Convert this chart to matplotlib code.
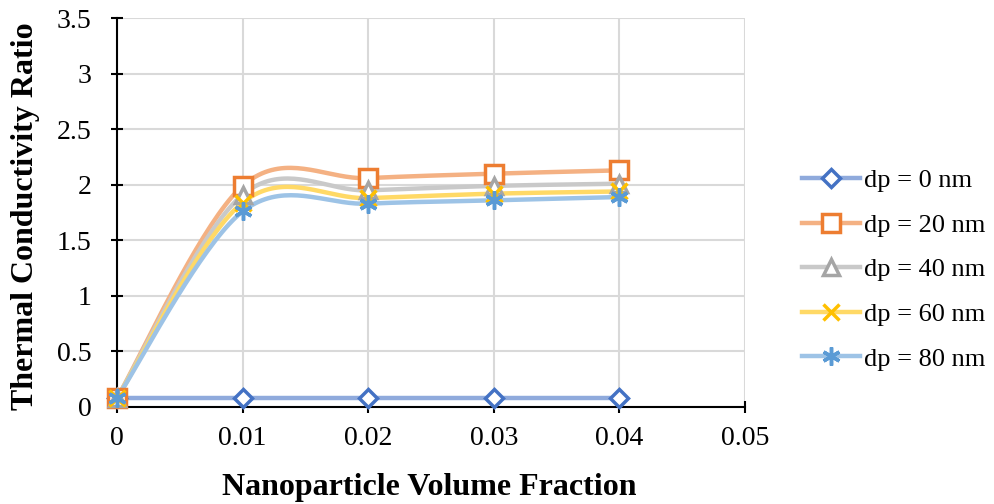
import numpy as np
import matplotlib.pyplot as plt
from matplotlib.ticker import FuncFormatter

# data
volume_fraction = [0, 0.01, 0.02, 0.03, 0.04]
dp_0 = [0.08, 0.08, 0.08, 0.08, 0.08]
dp_20 = [0.08, 1.99, 2.06, 2.10, 2.13]
dp_40 = [0.08, 1.91, 1.95, 1.99, 2.01]
dp_60 = [0.08, 1.84, 1.88, 1.92, 1.94]
dp_80 = [0.08, 1.76, 1.83, 1.86, 1.89]
labels = ["dp = 0 nm", "dp = 20 nm", "dp = 40 nm", "dp = 60 nm", "dp = 80 nm"]


def excel_smooth(x, y, n=40):
    # Excel-like smoothed line: cubic bezier through points (Catmull-Rom, tension 1/6)
    x = np.asarray(x, float)
    y = np.asarray(y, float)
    px, py = [], []
    for i in range(len(x) - 1):
        x0, y0 = (x[i - 1], y[i - 1]) if i > 0 else (x[i], y[i])
        x3, y3 = (x[i + 2], y[i + 2]) if i + 2 < len(x) else (x[i + 1], y[i + 1])
        c1x = x[i] + (x[i + 1] - x0) / 6
        c1y = y[i] + (y[i + 1] - y0) / 6
        c2x = x[i + 1] - (x3 - x[i]) / 6
        c2y = y[i + 1] - (y3 - y[i]) / 6
        t = np.linspace(0, 1, n)
        bx = (1-t)**3*x[i] + 3*(1-t)**2*t*c1x + 3*(1-t)*t**2*c2x + t**3*x[i+1]
        by = (1-t)**3*y[i] + 3*(1-t)**2*t*c1y + 3*(1-t)*t**2*c2y + t**3*y[i+1]
        px.extend(bx)
        py.extend(by)
    return np.array(px), np.array(py)


plt.rcParams['font.family'] = ['Liberation Serif', 'DejaVu Serif']

fig = plt.figure(figsize=(9.95, 5.04), dpi=100)
ax = fig.add_axes([0.1176, 0.1925, 0.6311, 0.7715])

series = [dp_0, dp_20, dp_40, dp_60, dp_80]
line_colors = ["#8FAADC", "#F4B183", "#C9C9C9", "#FFD966", "#9DC3E6"]
marker_colors = ["#4472C4", "#ED7D31", "#A5A5A5", "#FFC000", "#5B9BD5"]
markers = ["D", "s", "^", "x", (6, 2, 0)]
sizes = [9, 13, 11, 12, 13]

handles = []
for ys, lc, mc, m, s, lab in zip(series, line_colors, marker_colors, markers, sizes, labels):
    sx, sy = excel_smooth(volume_fraction, ys)
    ax.plot(sx, sy, color=lc, lw=3.2, solid_capstyle='round', zorder=2)
    filled = m in ("x",) or isinstance(m, tuple)
    ax.plot(volume_fraction, ys, linestyle='none', marker=m, markersize=s,
            markerfacecolor=mc if filled else 'white', markeredgecolor=mc,
            markeredgewidth=2.5, zorder=3, clip_on=False)
    h, = ax.plot([], [], color=lc, lw=3.2, marker=m, markersize=s,
                 markerfacecolor=mc if filled else 'white', markeredgecolor=mc,
                 markeredgewidth=2.5, label=lab)
    handles.append(h)

ax.set_xlim(0, 0.05)
ax.set_ylim(0, 3.5)
ax.set_xticks([0, 0.01, 0.02, 0.03, 0.04, 0.05])
ax.set_yticks(np.arange(0, 3.51, 0.5))
ax.xaxis.set_major_formatter(FuncFormatter(lambda v, p: "0" if v == 0 else f"{v:g}"))
ax.yaxis.set_major_formatter(FuncFormatter(lambda v, p: f"{v:g}"))
ax.grid(True, color="#D9D9D9", lw=1.5)
ax.set_axisbelow(True)
for side in ["top", "right"]:
    ax.spines[side].set_visible(False)
for side in ["left", "bottom"]:
    ax.spines[side].set_color("black")
    ax.spines[side].set_linewidth(1.5)
ax.tick_params(axis='both', direction='inout', length=9, width=1.5, labelsize=20,
               colors='black')
ax.tick_params(axis='y', pad=14)
ax.tick_params(axis='x', pad=9)

ax.set_xlabel("Nanoparticle Volume Fraction", fontsize=23, fontweight='bold')
ax.set_ylabel("Thermal Conductivity Ratio", fontsize=23, fontweight='bold')
ax.xaxis.set_label_coords(0.497, -0.17)
ax.yaxis.set_label_coords(-0.123, 0.49)

fig.legend(handles=handles, loc='upper left', bbox_to_anchor=(0.806, 0.665),
           frameon=False, fontsize=19, handlelength=2.2, handletextpad=0.15,
           labelspacing=0.8, borderpad=0, borderaxespad=0)

fig.savefig("out.png", dpi=100)
